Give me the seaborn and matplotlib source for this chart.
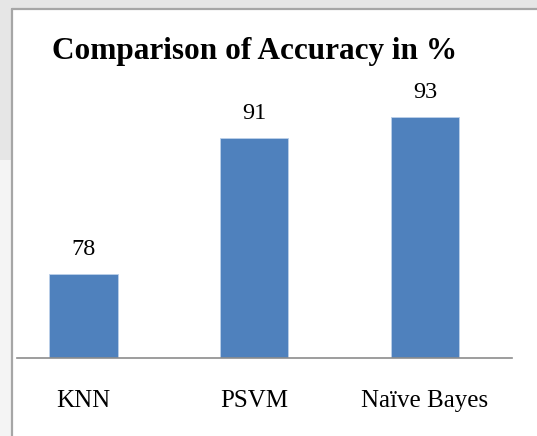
import matplotlib
matplotlib.use("Agg")
import matplotlib.pyplot as plt
import seaborn as sns
import pandas as pd
from matplotlib.patches import Rectangle

# Data
methods = ["KNN", "PSVM", "Naïve Bayes"]
accuracy = [78, 91, 93]

df = pd.DataFrame({"method": methods, "accuracy": accuracy})

sns.set_style("white")
plt.rcParams["font.family"] = ["Liberation Serif", "DejaVu Serif"]
plt.rcParams["text.color"] = "black"

W, H = 537, 436
px = 72 / 100  # points per pixel at dpi 100
fig = plt.figure(figsize=(W / 100, H / 100), dpi=100)
fig.patch.set_facecolor("white")

# screenshot surroundings: grey strips and chart frame
fig.patches.append(Rectangle((0, 1 - 9 / H), 1, 9 / H, transform=fig.transFigure,
                             facecolor="#e6e6e6", edgecolor="none", zorder=0))
fig.patches.append(Rectangle((0, 1 - 160 / H), 11 / W, 160 / H, transform=fig.transFigure,
                             facecolor="#e6e6e6", edgecolor="none", zorder=0))
fig.patches.append(Rectangle((0, 0), 11 / W, 1 - 160 / H, transform=fig.transFigure,
                             facecolor="#f4f4f4", edgecolor="none", zorder=0))
fig.lines.append(plt.Line2D([11.5 / W, 11.5 / W], [0, 1 - 9.5 / H], transform=fig.transFigure,
                            color="#a6a6a6", lw=1.6))
fig.lines.append(plt.Line2D([11.5 / W, 1], [1 - 9.5 / H, 1 - 9.5 / H], transform=fig.transFigure,
                            color="#a6a6a6", lw=1.6))

ax = fig.add_axes([17 / W, (H - 358) / H, (512 - 17) / W, (358 - 44) / H])
sns.barplot(data=df, x="method", y="accuracy", color="#4f81bd", width=0.4,
            saturation=1, ax=ax, zorder=2)
for p in ax.patches:
    p.set_edgecolor("#bcd0ea")
    p.set_linewidth(0.6)

ax.set_ylim(70, 100)
ax.set_xlim(-0.39, 2.51)
ax.set_facecolor("none")
for s in ["top", "right", "left"]:
    ax.spines[s].set_visible(False)
ax.spines["bottom"].set_color("#8c8c8c")
ax.spines["bottom"].set_linewidth(1.2)
ax.set_yticks([])
ax.set_xticks(range(len(methods)))
ax.set_xticklabels([])
ax.tick_params(axis="x", length=0)
ax.set_xlabel("")
ax.set_ylabel("")

# value labels above bars
for i, v in enumerate(accuracy):
    ax.annotate(str(v), (i, v), xytext=(0, 19 * px), textcoords="offset points",
                ha="center", va="baseline", fontsize=17.5, color="black")

# category labels below the baseline
for i, m in enumerate(methods):
    ax.annotate(m, (i, 0), xycoords=("data", "axes fraction"), xytext=(0, -49 * px),
                textcoords="offset points", ha="center", va="baseline",
                fontsize=18, color="black")

fig.text(255 / W, 1 - 59 / H, "Comparison of Accuracy in %", ha="center", va="baseline",
         fontsize=22.5, fontweight="bold", color="black")

fig.savefig("out.png", dpi=100)
